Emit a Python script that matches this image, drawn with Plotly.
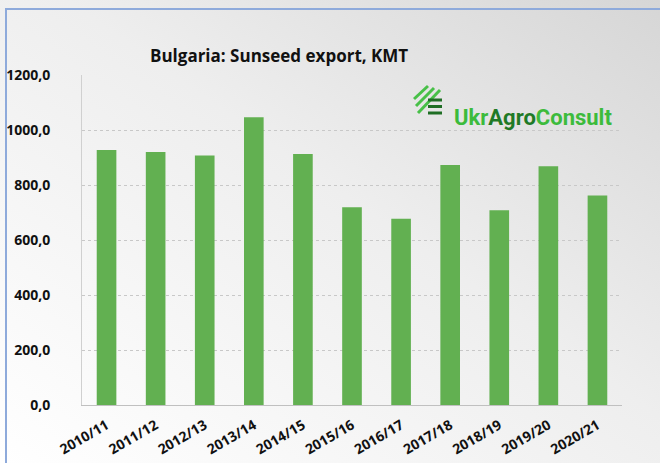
import plotly.graph_objects as go
import urllib.parse

# Data
seasons = ['2010/11', '2011/12', '2012/13', '2013/14', '2014/15', '2015/16',
           '2016/17', '2017/18', '2018/19', '2019/20', '2020/21']
export_kmt = [927, 920, 907, 1046, 913, 719, 677, 873, 708, 868, 762]
y_ticks = [0, 200, 400, 600, 800, 1000, 1200]
y_tick_labels = ['0,0', '200,0', '400,0', '600,0', '800,0', '1000,0', '1200,0']

W, H = 660, 463
L, R, T, B = 82, 38, 75, 58
PW, PH = W - L - R, H - T - B

def px(x):
    return (x - L) / PW

def py(y):
    return (H - B - y) / PH

fig = go.Figure()
fig.add_trace(go.Bar(x=seasons, y=export_kmt, marker=dict(color='#62b051', line=dict(width=0)),
                     width=0.4, hoverinfo='x+y'))

# gradient background (light bottom-left -> gray top-right)
svg = ('<svg xmlns="http://www.w3.org/2000/svg" width="660" height="463" preserveAspectRatio="none">'
       '<defs><linearGradient id="g" x1="0" y1="1" x2="1" y2="0">'
       '<stop offset="0" stop-color="#ffffff"/><stop offset="0.55" stop-color="#eeeeee"/>'
       '<stop offset="1" stop-color="#d6d6d6"/></linearGradient></defs>'
       '<rect width="660" height="463" fill="url(#g)"/></svg>')
bg = 'data:image/svg+xml;charset=utf-8,' + urllib.parse.quote(svg)
fig.add_layout_image(dict(source=bg, xref='paper', yref='paper', x=px(0), y=py(0),
                          sizex=W / PW, sizey=H / PH, sizing='stretch', layer='below',
                          xanchor='left', yanchor='top'))

# frame
fig.add_shape(type='rect', xref='paper', yref='paper', x0=px(6), x1=px(700), y0=py(9), y1=py(520),
              line=dict(color='#8eaadb', width=2), fillcolor='rgba(0,0,0,0)')

# title
fig.add_annotation(text='<b>Bulgaria: Sunseed export, KMT</b>', xref='paper', yref='paper',
                   x=px(279), y=py(42), showarrow=False,
                   font=dict(family='Open Sans', size=17, color='#111111'))

# logo text
fig.add_annotation(text='<span style="color:#3cbb3c">Ukr</span><span style="color:#1f7a26">Agro</span>'
                        '<span style="color:#3cbb3c">Consult</span>',
                   xref='paper', yref='paper', x=px(452), y=py(103), xanchor='left', showarrow=False,
                   font=dict(family='Roboto', size=22, color='#3cbb3c', weight='bold'))

# logo icon
for (x0, y0, x1, y1) in [(414, 99, 428, 86), (416, 106, 434, 88), (418, 113, 440, 90)]:
    fig.add_shape(type='line', xref='paper', yref='paper', x0=px(x0), y0=py(y0), x1=px(x1), y1=py(y1),
                  line=dict(color='#48c048', width=3))
for yy in [100, 106.5, 113]:
    fig.add_shape(type='line', xref='paper', yref='paper', x0=px(428), y0=py(yy), x1=px(442), y1=py(yy),
                  line=dict(color='#1f6e24', width=3))

fig.update_layout(
    width=W, height=H,
    margin=dict(l=L, r=R, t=T, b=B),
    paper_bgcolor='white', plot_bgcolor='rgba(0,0,0,0)',
    showlegend=False,
    font=dict(family='Open Sans', color='#111111'),
    bargap=0.6,
)
fig.update_xaxes(showgrid=False, showline=True, linecolor='#c0c0c0', linewidth=1, ticks='',
                 tickangle=-30, automargin=False, ticklabelstandoff=6,
                 tickfont=dict(size=14, family='Open Sans', weight='bold'))
fig.update_yaxes(range=[0, 1200], tickvals=y_ticks, ticktext=y_tick_labels,
                 showgrid=True, gridcolor='#c8c8c8', griddash='dot', gridwidth=1,
                 showline=True, linecolor='#d0d0d0', zeroline=False, ticks='',
                 ticklabelstandoff=28, automargin=False,
                 tickfont=dict(size=14, family='Open Sans', weight='bold'))

# page body has a default margin; remove it so the figure sits at the top-left corner
fig.write_html('out.html', config={'displayModeBar': False},
               post_script="document.body.style.margin='0';")
